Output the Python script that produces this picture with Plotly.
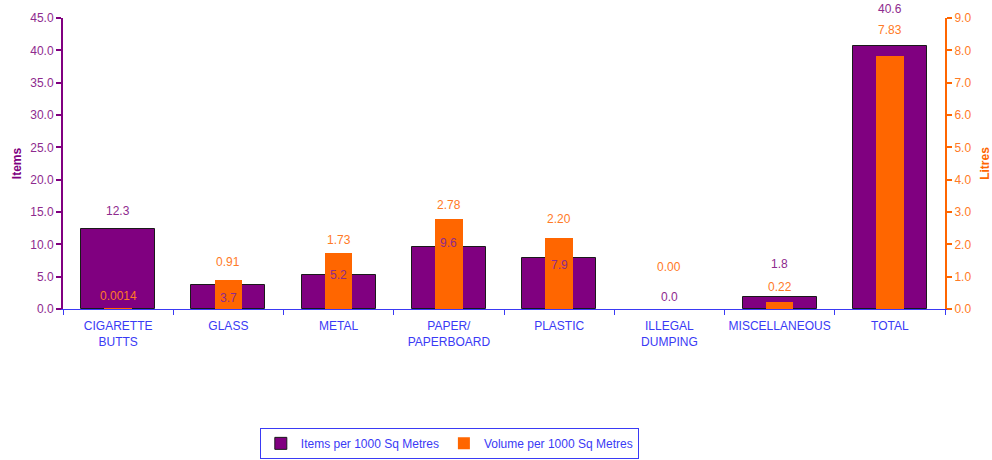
import plotly.graph_objects as go

categories = ["CIGARETTE<br>BUTTS", "GLASS", "METAL", "PAPER/<br>PAPERBOARD", "PLASTIC",
              "ILLEGAL<br>DUMPING", "MISCELLANEOUS", "TOTAL"]
items_per_1000 = [12.3, 3.7, 5.2, 9.6, 7.9, 0.0, 1.8, 40.6]
volume_per_1000 = [0.0014, 0.91, 1.73, 2.78, 2.20, 0.00, 0.22, 7.83]

# label pixel offsets (visual placement only)
items_label_shift = [18, -13, 0, 4, -7, 12, 33, 37]
volume_label_shift = [13, 18, 13, 14, 19, 42, 15, 26]

PURPLE = "#800080"
PURPLE_TXT = "#8E2A8E"
ORANGE = "#FF6600"
ORANGE_TXT = "#FF7A26"
BLUE = "#3A3AF5"
FONT = "Liberation Sans, Arial, sans-serif"

fig = go.Figure()
fig.add_trace(go.Bar(
    x=categories, y=items_per_1000, name="Items per 1000 Sq Metres",
    marker=dict(color=PURPLE,
                line=dict(color="#1a1a1a", width=[1 if v > 0 else 0 for v in items_per_1000])),
    width=0.67, yaxis="y", hoverinfo="x+y"))
fig.add_trace(go.Bar(
    x=categories, y=volume_per_1000, name="Volume per 1000 Sq Metres",
    marker=dict(color=ORANGE, line=dict(width=0)),
    width=0.25, yaxis="y2", hoverinfo="x+y"))


def fmt_vol(v):
    if v != 0 and v < 0.01:
        return f"{v:g}"
    return f"{v:.2f}"


annotations = []
for c, v, s in zip(categories, items_per_1000, items_label_shift):
    annotations.append(dict(x=c, y=v, xref="x", yref="y", text=f"{v:.1f}",
                            showarrow=False, yshift=s, yanchor="middle",
                            font=dict(color=PURPLE_TXT, size=12, family=FONT)))
for c, v, s in zip(categories, volume_per_1000, volume_label_shift):
    annotations.append(dict(x=c, y=v, xref="x", yref="y2", text=fmt_vol(v),
                            showarrow=False, yshift=s, yanchor="middle",
                            font=dict(color=ORANGE_TXT, size=12, family=FONT)))

fig.update_layout(
    width=992, height=460,
    margin=dict(l=63, r=47, t=18, b=151, autoexpand=False),
    paper_bgcolor="white", plot_bgcolor="white",
    font=dict(family=FONT, size=12),
    barmode="overlay",
    bargap=0,
    xaxis=dict(
        type="category", showline=True, linecolor=BLUE, linewidth=1,
        ticks="outside", tickson="boundaries", ticklen=5, tickcolor=BLUE,
        tickangle=0, automargin=False, ticklabelstandoff=6,
        tickfont=dict(color=BLUE, size=12, family=FONT), showgrid=False,
        zeroline=False),
    yaxis=dict(
        range=[0, 45], dtick=5, tickformat=".1f", showgrid=False, zeroline=False,
        showline=True, linecolor=PURPLE, linewidth=2, ticks="outside",
        ticklen=5, tickcolor=PURPLE, tickwidth=2, automargin=False,
        tickfont=dict(color=PURPLE_TXT, size=12, family=FONT),
        title=dict(text="<b>Items</b>", font=dict(color=PURPLE, size=12, family=FONT),
                   standoff=6)),
    yaxis2=dict(
        range=[0, 9], dtick=1, tickformat=".1f", overlaying="y", side="right",
        showgrid=False, zeroline=False, showline=True, linecolor=ORANGE,
        linewidth=2, ticks="outside", ticklen=5, tickcolor=ORANGE, tickwidth=2,
        automargin=False,
        tickfont=dict(color=ORANGE_TXT, size=12, family=FONT),
        title=dict(text="<b>Litres</b>", font=dict(color=ORANGE, size=12, family=FONT),
                   standoff=10)),
    legend=dict(
        orientation="h", x=0.438, xanchor="center", y=-0.515, yanchor="bottom",
        bordercolor=BLUE, borderwidth=1, bgcolor="white",
        font=dict(color=BLUE, size=12, family=FONT),
        itemwidth=30, tracegroupgap=0),
    annotations=annotations,
    showlegend=True,
)

fig.write_html("out.html", config={"displayModeBar": False},
               post_script="document.body.style.margin='0';")
